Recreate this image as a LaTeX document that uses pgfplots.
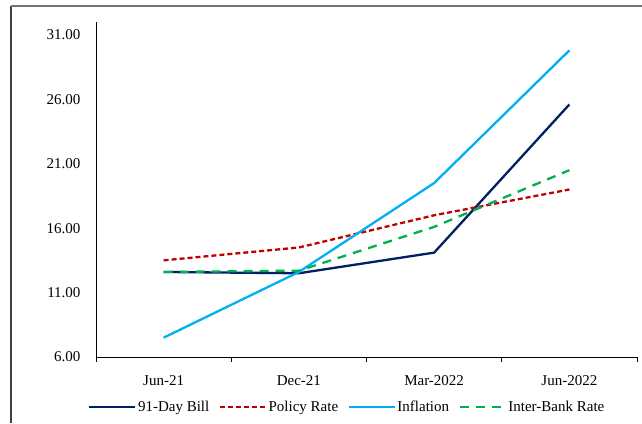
\documentclass[border=0pt]{standalone}
\usepackage{fontspec}
\setmainfont{Liberation Serif}
\usepackage{pgfplots}
\pgfplotsset{compat=1.18}
\definecolor{navy}{HTML}{002060}
\definecolor{polred}{HTML}{C00000}
\definecolor{infblue}{HTML}{00B0F0}
\definecolor{ibgreen}{HTML}{00B050}
\begin{document}
\begin{tikzpicture}[x=1bp,y=1bp]
\useasboundingbox (0,0) rectangle (642,423);
\draw[line width=1.2bp, black!75] (11,0) -- (11,417);
\draw[line width=1.5bp, black!55] (11,417) -- (642,417);
\begin{axis}[
  at={(96bp,66bp)}, anchor=south west,
  scale only axis, width=541bp, height=335bp,
  xmin=-0.5, xmax=3.5, ymin=6, ymax=32,
  axis x line*=bottom, axis y line*=left,
  axis line style={line width=0.8bp, black, -},
  xtick={0,1,2,3},
  xticklabels={Jun-21,Dec-21,Mar-2022,Jun-2022},
  minor xtick={-0.5,0.5,1.5,2.5,3.5},
  major tick length=0pt, minor tick length=5bp, tick align=outside,
  minor tick style={line width=0.8bp, black},
  major tick style={draw=none},
  ytick={6,11,16,21,26,31},
  /pgf/number format/fixed,
  /pgf/number format/fixed zerofill,
  /pgf/number format/precision=2,
  /pgf/number format/assume math mode=true,
  tick label style={font=\fontsize{15bp}{18bp}\selectfont},
  xticklabel style={anchor=base, yshift=-28bp},
  yticklabel style={anchor=east, xshift=-12bp},
  legend columns=4,
  legend style={at={(0.464,-0.149)}, anchor=center, draw=none, fill=none,
    font=\fontsize{15bp}{18bp}\selectfont,
    nodes={inner sep=1.5bp},
    /tikz/every even column/.append style={column sep=8bp}},
  legend image code/.code={\draw[#1] (0bp,0bp) -- (46bp,0bp);},
]
\addplot[navy, line width=2.3bp, line join=round] coordinates {(0,12.6)(1,12.5)(2,14.1)(3,25.6)};
\addlegendentry{91-Day Bill}
\addplot[polred, line width=2.3bp, dash pattern=on 5bp off 3bp] coordinates {(0,13.5)(1,14.5)(2,17.0)(3,19.0)};
\addlegendentry{Policy Rate}
\addplot[infblue, line width=2.3bp, line join=round] coordinates {(0,7.5)(1,12.6)(2,19.5)(3,29.8)};
\addlegendentry{Inflation}
\addplot[ibgreen, line width=2.3bp, dash pattern=on 9bp off 7bp] coordinates {(0,12.6)(1,12.7)(2,16.1)(3,20.5)};
\addlegendentry{Inter-Bank Rate}
\end{axis}
\end{tikzpicture}
\end{document}
